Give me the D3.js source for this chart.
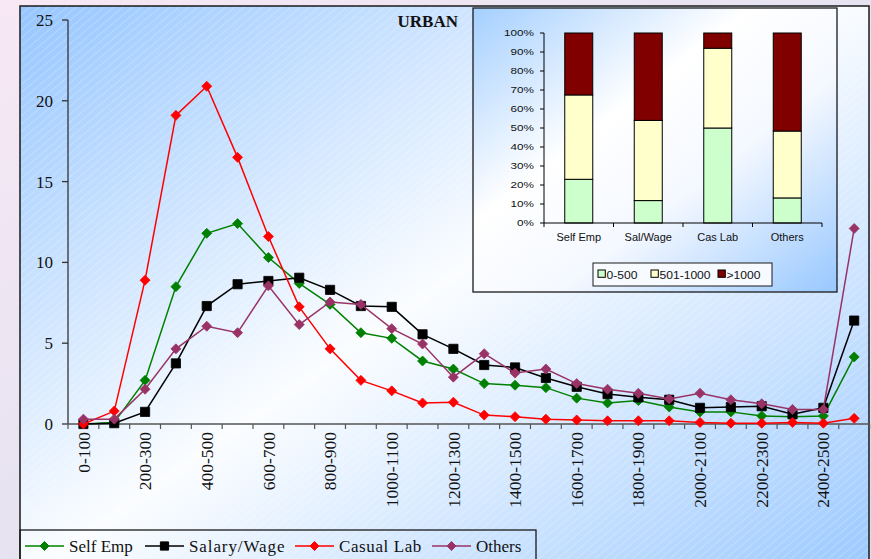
<!DOCTYPE html>
<html>
<head>
<meta charset="utf-8">
<script src="https://cdn.jsdelivr.net/npm/d3@7"></script>
<style>
  body { margin: 0; background: #ece6f4; }
  svg { display: block; }
</style>
</head>
<body>
<svg id="chart" width="871" height="559"></svg>
<script>
// income classes (Rs per month) - one point per class
const categories = [
  "0-100", "100-200", "200-300", "300-400", "400-500", "500-600", "600-700",
  "700-800", "800-900", "900-1000", "1000-1100", "1100-1200", "1200-1300",
  "1300-1400", "1400-1500", "1500-1600", "1600-1700", "1700-1800", "1800-1900",
  "1900-2000", "2000-2100", "2100-2200", "2200-2300", "2300-2400", "2400-2500", ">2500",
];
const selfEmp = [
  0, 0.1, 2.7, 8.5, 11.8, 12.4, 10.3, 8.7, 7.4, 5.65, 5.3, 3.9, 3.4,
  2.5, 2.4, 2.25, 1.6, 1.3, 1.45, 1.05, 0.75, 0.75, 0.5, 0.45, 0.5, 4.15,
];
const salaryWage = [
  0, 0.05, 0.75, 3.75, 7.3, 8.65, 8.85, 9.05, 8.3, 7.3, 7.25, 5.55, 4.65,
  3.65, 3.5, 2.85, 2.3, 1.85, 1.65, 1.5, 1.0, 1.05, 1.1, 0.6, 1.0, 6.4,
];
const casualLab = [
  0, 0.8, 8.9, 19.1, 20.9, 16.5, 11.6, 7.25, 4.65, 2.7, 2.05, 1.3, 1.35,
  0.55, 0.45, 0.3, 0.25, 0.2, 0.2, 0.2, 0.1, 0.05, 0.05, 0.1, 0.05, 0.35,
];
const others = [
  0.3, 0.3, 2.15, 4.65, 6.05, 5.65, 8.55, 6.15, 7.55, 7.4, 5.9, 4.95, 2.9,
  4.35, 3.15, 3.4, 2.5, 2.15, 1.9, 1.55, 1.9, 1.5, 1.25, 0.9, 0.9, 12.1,
];
const yTicks = [0, 5, 10, 15, 20, 25];

// inset: share of households by income band (%)
const shareGroups = ["Self Emp", "Sal/Wage", "Cas Lab", "Others"];
const shareUpTo500 = [23, 11.8, 50, 13.2];
const share501to1000 = [44.4, 42.2, 42, 35.2];
const shareAbove1000 = [32.6, 46, 8, 51.6];
const shareTicks = [0, 10, 20, 30, 40, 50, 60, 70, 80, 90, 100];

const serif = "'Liberation Serif', 'Times New Roman', serif";
const sans = "'Liberation Sans', Arial, sans-serif";

const svg = d3.select("svg#chart");
const defs = svg.append("defs");

function diamond(r) {
  return `M0,${-r}L${r},0L0,${r}L${-r},0Z`;
}
function square(r) {
  return `M${-r},${-r}h${2 * r}v${2 * r}h${-2 * r}Z`;
}

// backgrounds
const pageGrad = defs.append("linearGradient").attr("id", "pageGrad")
  .attr("x1", 0).attr("y1", 0).attr("x2", 1).attr("y2", 1);
pageGrad.append("stop").attr("offset", 0).attr("stop-color", "#f7e8f4");
pageGrad.append("stop").attr("offset", 1).attr("stop-color", "#d6deef");

const chartGrad = defs.append("linearGradient").attr("id", "chartGrad")
  .attr("x1", 0).attr("y1", 0).attr("x2", 1).attr("y2", 1);
chartGrad.append("stop").attr("offset", 0).attr("stop-color", "#96c6ff");
chartGrad.append("stop").attr("offset", 0.48).attr("stop-color", "#fbfdff");
chartGrad.append("stop").attr("offset", 1).attr("stop-color", "#96c6ff");

const insetGrad = defs.append("linearGradient").attr("id", "insetGrad")
  .attr("x1", 0).attr("y1", 0).attr("x2", 1).attr("y2", 1);
insetGrad.append("stop").attr("offset", 0).attr("stop-color", "#a4cfff");
insetGrad.append("stop").attr("offset", 0.38).attr("stop-color", "#ffffff");
insetGrad.append("stop").attr("offset", 0.62).attr("stop-color", "#f4f8ff");
insetGrad.append("stop").attr("offset", 1).attr("stop-color", "#98c8ff");

const hatch = defs.append("pattern").attr("id", "hatch")
  .attr("patternUnits", "userSpaceOnUse")
  .attr("width", 6).attr("height", 6)
  .attr("patternTransform", "rotate(-40)");
hatch.append("line")
  .attr("x1", 0).attr("y1", 0).attr("x2", 6).attr("y2", 0)
  .attr("stroke", "#ffffff").attr("stroke-opacity", 0.45).attr("stroke-width", 1);

svg.append("rect").attr("width", 871).attr("height", 559).attr("fill", "url(#pageGrad)");
svg.append("rect").attr("x", 20).attr("y", 6).attr("width", 849).attr("height", 600)
  .attr("fill", "url(#chartGrad)");
svg.append("rect").attr("x", 20).attr("y", 6).attr("width", 849).attr("height", 600)
  .attr("fill", "url(#hatch)");
svg.append("rect").attr("x", 20).attr("y", 6).attr("width", 849).attr("height", 600)
  .attr("fill", "none").attr("stroke", "#1a1a1a").attr("stroke-width", 1.5);

// main scales
const xScale = d3.scaleBand().domain(categories).range([68, 869.6]);
const yScale = d3.scaleLinear().domain([0, 25]).range([424, 20]);
const bw = xScale.bandwidth();
const cx = (c) => xScale(c) + bw / 2;

// y axis
svg.append("line").attr("x1", 68).attr("x2", 68)
  .attr("y1", yScale(25)).attr("y2", yScale(0))
  .attr("stroke", "#333").attr("stroke-width", 1.3);
svg.selectAll("line.ytick").data(yTicks).enter().append("line")
  .attr("class", "ytick")
  .attr("x1", 62).attr("x2", 68)
  .attr("y1", (d) => yScale(d)).attr("y2", (d) => yScale(d))
  .attr("stroke", "#333").attr("stroke-width", 1.3);
svg.selectAll("text.ylab").data(yTicks).enter().append("text")
  .attr("class", "ylab")
  .attr("x", 53).attr("y", (d) => yScale(d)).attr("dy", "0.35em")
  .attr("text-anchor", "end")
  .attr("font-family", serif).attr("font-size", 17).attr("fill", "#111")
  .text((d) => d);

// x axis
svg.append("line").attr("x1", 68).attr("x2", 869)
  .attr("y1", yScale(0)).attr("y2", yScale(0))
  .attr("stroke", "#555").attr("stroke-width", 1.5);
svg.selectAll("line.xtick").data(d3.range(categories.length + 1)).enter().append("line")
  .attr("class", "xtick")
  .attr("x1", (i) => 68 + i * bw).attr("x2", (i) => 68 + i * bw)
  .attr("y1", yScale(0)).attr("y2", yScale(0) + 5)
  .attr("stroke", "#555").attr("stroke-width", 1.2);
svg.selectAll("text.xlab")
  .data(categories.filter((c, i) => i % 2 === 0 && i < categories.length - 1))
  .enter().append("text")
  .attr("class", "xlab")
  .attr("transform", (d) => `translate(${cx(d)},432) rotate(-90)`)
  .attr("dy", "0.35em")
  .attr("text-anchor", "end")
  .attr("font-family", serif).attr("font-size", 17.5).attr("fill", "#111")
  .text((d) => d);

// title
svg.append("text").attr("x", 458).attr("y", 27).attr("text-anchor", "end")
  .attr("font-family", serif).attr("font-weight", "bold").attr("font-size", 17)
  .attr("fill", "#111").text("URBAN");

// series
const series = [
  { name: "Self Emp", values: selfEmp, color: "#008000", shape: diamond, r: 5 },
  { name: "Salary/Wage", values: salaryWage, color: "#000000", shape: square, r: 4.6 },
  { name: "Casual Lab", values: casualLab, color: "#ff0000", shape: diamond, r: 5 },
  { name: "Others", values: others, color: "#993366", shape: diamond, r: 5 },
];

const line = d3.line()
  .x((d, i) => cx(categories[i]))
  .y((d) => yScale(d));

series.forEach(function (s) {
  svg.append("path")
    .attr("d", line(s.values))
    .attr("fill", "none")
    .attr("stroke", s.color)
    .attr("stroke-width", 1.5);
  svg.append("g").selectAll("path").data(s.values).enter().append("path")
    .attr("transform", (d, i) => `translate(${cx(categories[i])},${yScale(d)})`)
    .attr("d", s.shape(s.r))
    .attr("fill", s.color)
    .attr("stroke", s.color)
    .attr("stroke-width", 0.8);
});

// main legend
svg.append("rect").attr("x", 20).attr("y", 530).attr("width", 516).attr("height", 40)
  .attr("fill", "none").attr("stroke", "#1a1a1a").attr("stroke-width", 1.3);
const legendX = [25, 145, 295, 432];
series.forEach(function (s, i) {
  const x0 = legendX[i];
  const g = svg.append("g").attr("transform", `translate(${x0},546)`);
  g.append("line").attr("x1", 0).attr("x2", 39).attr("y1", 0).attr("y2", 0)
    .attr("stroke", s.color).attr("stroke-width", 1.5);
  g.append("path").attr("transform", "translate(19.5,0)")
    .attr("d", s.shape(s.r - 0.5)).attr("fill", s.color).attr("stroke", s.color);
  g.append("text").attr("x", 44).attr("y", 5.5)
    .attr("font-family", serif).attr("font-size", 17).attr("fill", "#111")
    .attr("letter-spacing", i === 1 ? 0.9 : i === 2 ? 0.6 : 0)
    .text(s.name);
});

// inset stacked bar chart
const inset = svg.append("g");
inset.append("rect").attr("x", 473).attr("y", 8).attr("width", 364).attr("height", 284)
  .attr("fill", "url(#insetGrad)").attr("stroke", "#1a1a1a").attr("stroke-width", 1.3);

const bandX = d3.scaleBand().domain(shareGroups).range([544, 822]);
const pctY = d3.scaleLinear().domain([0, 100]).range([223, 33]);
const barW = 28;

const shareRows = shareGroups.map((g, i) => ({
  group: g, a: shareUpTo500[i], b: share501to1000[i], c: shareAbove1000[i],
}));
const stackKeys = ["a", "b", "c"];
const stackColors = { a: "#ccffcc", b: "#ffffcc", c: "#800000" };
const stacked = d3.stack().keys(stackKeys)(shareRows);

inset.selectAll("g.layer").data(stacked).enter().append("g")
  .attr("class", "layer")
  .attr("fill", (d) => stackColors[d.key])
  .selectAll("rect").data((d) => d).enter().append("rect")
  .attr("x", (d) => bandX(d.data.group) + bandX.bandwidth() / 2 - barW / 2)
  .attr("y", (d) => pctY(d[1]))
  .attr("width", barW)
  .attr("height", (d) => pctY(d[0]) - pctY(d[1]))
  .attr("stroke", "#000").attr("stroke-width", 1);

// inset axes
inset.append("line").attr("x1", 544).attr("x2", 544).attr("y1", pctY(100)).attr("y2", pctY(0))
  .attr("stroke", "#000").attr("stroke-width", 1);
inset.append("line").attr("x1", 544).attr("x2", 822).attr("y1", pctY(0)).attr("y2", pctY(0))
  .attr("stroke", "#000").attr("stroke-width", 1);
inset.selectAll("line.ptick").data(shareTicks).enter().append("line")
  .attr("class", "ptick")
  .attr("x1", 540).attr("x2", 544)
  .attr("y1", (d) => pctY(d)).attr("y2", (d) => pctY(d))
  .attr("stroke", "#000");
// the percent labels are drawn wide, as in the original
inset.selectAll("text.plab").data(shareTicks).enter().append("text")
  .attr("class", "plab")
  .attr("transform", (d) => `translate(534,${pctY(d)}) scale(1.22,1)`)
  .attr("dy", "0.36em")
  .attr("text-anchor", "end")
  .attr("font-family", sans).attr("font-size", 9.6).attr("fill", "#111")
  .text((d) => d + "%");
inset.selectAll("line.gtick").data(d3.range(shareGroups.length + 1)).enter().append("line")
  .attr("class", "gtick")
  .attr("x1", (i) => 544 + i * bandX.bandwidth()).attr("x2", (i) => 544 + i * bandX.bandwidth())
  .attr("y1", pctY(0)).attr("y2", pctY(0) + 4)
  .attr("stroke", "#000");
inset.selectAll("text.glab").data(shareGroups).enter().append("text")
  .attr("class", "glab")
  .attr("x", (d) => bandX(d) + bandX.bandwidth() / 2).attr("y", 241)
  .attr("text-anchor", "middle")
  .attr("font-family", sans).attr("font-size", 11).attr("fill", "#111")
  .text((d) => d);

// inset legend
inset.append("rect").attr("x", 593).attr("y", 263).attr("width", 179).attr("height", 23)
  .attr("fill", "#f7faff").attr("stroke", "#1a1a1a").attr("stroke-width", 1);
const insetLegend = [
  { key: "a", label: "0-500", x: 598 },
  { key: "b", label: "501-1000", x: 651 },
  { key: "c", label: ">1000", x: 718 },
];
insetLegend.forEach(function (d) {
  inset.append("rect").attr("x", d.x).attr("y", 270).attr("width", 7.3).attr("height", 7.3)
    .attr("fill", stackColors[d.key]).attr("stroke", "#000");
  inset.append("text")
    .attr("transform", `translate(${d.x + 8.5},278.5) scale(1.1,1)`)
    .attr("font-family", sans).attr("font-size", 11).attr("fill", "#111")
    .text(d.label);
});
</script>
</body>
</html>
